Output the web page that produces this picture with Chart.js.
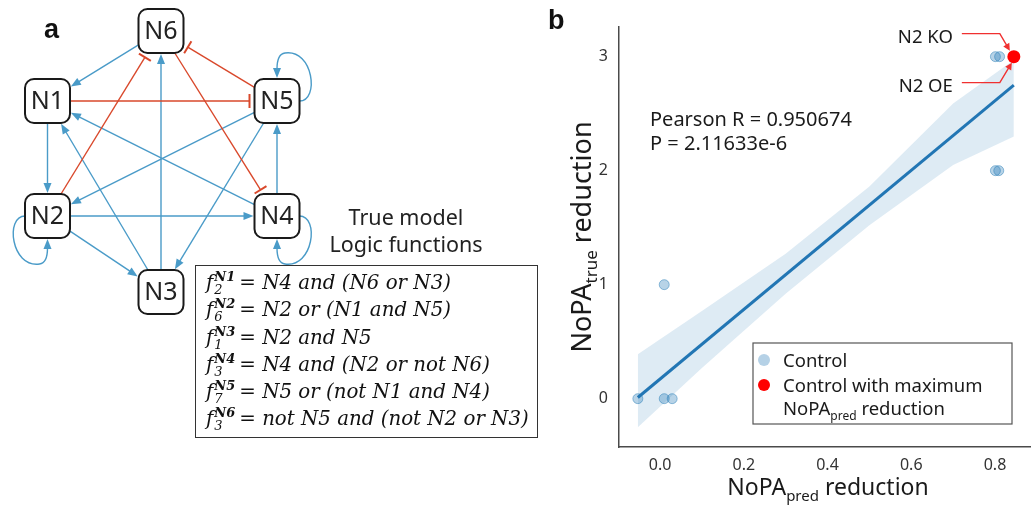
<!DOCTYPE html>
<html>
<head>
<meta charset="utf-8">
<script src="https://cdn.jsdelivr.net/npm/chart.js@4.4.0/dist/chart.umd.min.js"></script>
<style>
  body { margin: 0; width: 1031px; height: 506px; background: #fff; position: relative; overflow: hidden; font-family: 'Noto Sans', sans-serif; color: #222; }
  #netChart { position: absolute; left: 0; top: 0; }
  #scatterChart { position: absolute; left: 545px; top: 0; }
  .panel { position: absolute; font: bold 27px 'Liberation Sans', Arial, sans-serif; color: #111; }
  .caption { position: absolute; left: 300px; width: 212px; text-align: center; font-size: 21.5px; line-height: 27px; color: #222; }
  #logic { position: absolute; left: 195px; top: 265px; width: 343px; height: 173px; border: 1.5px solid #333; box-sizing: border-box; padding: 3px 0 0 10px; background: #fff; }
  .row { font: italic 19.8px 'DejaVu Serif', serif; line-height: 27.3px; height: 27.3px; white-space: nowrap; color: #111; }
  .ss { display: inline-block; vertical-align: -5px; line-height: 13px; font-size: 13px; margin: 0 4px 0 1px; }
  .ss span { display: block; }
  .ss .sp { font-weight: bold; }
  .eq { font-style: normal; }
</style>
</head>
<body>
<canvas id="netChart" width="545" height="506"></canvas>
<canvas id="scatterChart" width="486" height="506"></canvas>
<div class="panel" style="left:44px;top:14px">a</div>
<div class="panel" style="left:548px;top:5px">b</div>
<div class="caption" style="top:203px">True model</div>
<div class="caption" style="top:230px">Logic functions</div>
<div id="logic"></div>
<script>
// ---- panel a: true model network ----
const nodeNames = ["N1", "N2", "N3", "N4", "N5", "N6"];
const activations = [["N6", "N1"], ["N1", "N2"], ["N3", "N6"], ["N3", "N1"], ["N4", "N1"],
  ["N5", "N2"], ["N5", "N3"], ["N4", "N5"], ["N2", "N4"], ["N2", "N3"]];
const inhibitions = [["N1", "N5"], ["N2", "N6"], ["N5", "N6"], ["N6", "N4"]];
const selfLoops = ["N2", "N4", "N5"];

const logicTargets = ["N1", "N2", "N3", "N4", "N5", "N6"];
const logicIndex = ["2", "6", "1", "3", "7", "3"];
const logicRules = ["N4 and (N6 or N3)", "N2 or (N1 and N5)", "N2 and N5",
  "N4 and (N2 or not N6)", "N5 or (not N1 and N4)", "not N5 and (not N2 or N3)"];

// ---- panel b: NoPA scatter ----
const controlX = [-0.053, 0.010, 0.029, 0.010, 0.801, 0.809, 0.801, 0.811];
const controlY = [0, 0, 0, 1, 2, 2, 3, 3];
const bestX = [0.845];
const bestY = [3];
const bestLabels = ["N2 KO", "N2 OE"];
const fitX = [-0.053, 0.845];
const fitY = [0.01, 2.75];
const bandX = [-0.053, 0.1, 0.3, 0.5, 0.7, 0.845];
const bandLo = [-0.25, 0.27, 0.92, 1.52, 2.05, 2.30];
const bandHi = [0.39, 0.77, 1.27, 1.86, 2.59, 2.97];
const xTicks = [0, 0.2, 0.4, 0.6, 0.8];
const yTicks = [0, 1, 2, 3];
const statsText = ["Pearson R = 0.950674", "P = 2.11633e-6"];
const legendLabels = ["Control", "Control with maximum"];

// node layout in panel-a units
const nodeLayout = { N1: [47.5, 101], N2: [47.5, 216], N3: [161, 292], N4: [277, 216], N5: [277, 101], N6: [161, 31] };
const BLUE = "#4a9bc8", RED = "#d9482b";
const HW = 22.5, HH = 22;

// logic functions box
document.getElementById("logic").innerHTML = logicTargets.map((t, i) =>
  `<div class="row">f<span class="ss"><span class="sp">${t}</span><span>${logicIndex[i]}</span></span><span class="eq">=</span> ${logicRules[i]}</div>`
).join("");

function edgeT(dx, dy) {
  const tx = Math.abs(dx) > 1e-6 ? HW / Math.abs(dx) : Infinity;
  const ty = Math.abs(dy) > 1e-6 ? HH / Math.abs(dy) : Infinity;
  return Math.min(tx, ty);
}

function arrowHead(ctx, tx, ty, ux, uy, len, half, color) {
  ctx.fillStyle = color;
  ctx.beginPath();
  ctx.moveTo(tx, ty);
  ctx.lineTo(tx - ux * len - uy * half, ty - uy * len + ux * half);
  ctx.lineTo(tx - ux * len + uy * half, ty - uy * len - ux * half);
  ctx.closePath();
  ctx.fill();
}

const networkPlugin = {
  id: "network",
  afterDatasetsDraw(chart) {
    const ctx = chart.ctx;
    const sx = chart.scales.x, sy = chart.scales.y;
    const pos = (n) => [sx.getPixelForValue(nodeLayout[n][0]), sy.getPixelForValue(nodeLayout[n][1])];
    ctx.save();
    ctx.lineWidth = 1.4;

    const link = (a, b, inhib) => {
      const [x1, y1] = pos(a), [x2, y2] = pos(b);
      const d = Math.hypot(x2 - x1, y2 - y1);
      const ux = (x2 - x1) / d, uy = (y2 - y1) / d;
      const t = edgeT(ux, uy);
      const sxp = x1 + ux * t, syp = y1 + uy * t;
      const color = inhib ? RED : BLUE;
      ctx.strokeStyle = color;
      if (inhib) {
        const ex = x2 - ux * (t + 5), ey = y2 - uy * (t + 5);
        ctx.beginPath(); ctx.moveTo(sxp, syp); ctx.lineTo(ex, ey); ctx.stroke();
        ctx.lineWidth = 2;
        ctx.beginPath();
        ctx.moveTo(ex - uy * 7, ey + ux * 7); ctx.lineTo(ex + uy * 7, ey - ux * 7);
        ctx.stroke();
        ctx.lineWidth = 1.4;
      } else {
        const tx = x2 - ux * (t + 1), ty = y2 - uy * (t + 1);
        ctx.beginPath(); ctx.moveTo(sxp, syp); ctx.lineTo(tx - ux * 8, ty - uy * 8); ctx.stroke();
        arrowHead(ctx, tx, ty, ux, uy, 10, 4, color);
      }
    };
    activations.forEach(([a, b]) => link(a, b, false));
    inhibitions.forEach(([a, b]) => link(a, b, true));

    // self loops: N5 right->top, N4 right->bottom, N2 left->bottom
    selfLoops.forEach((n) => {
      const [cx, cy] = pos(n);
      const sxd = n === "N2" ? -1 : 1;
      const syd = n === "N5" ? -1 : 1;
      ctx.strokeStyle = BLUE;
      ctx.beginPath();
      ctx.moveTo(cx + sxd * HW, cy);
      ctx.bezierCurveTo(cx + sxd * (HW + 20), cy, cx + sxd * (HW + 14), cy + syd * (HH + 30), cx + sxd * 8, cy + syd * (HH + 26));
      ctx.quadraticCurveTo(cx, cy + syd * (HH + 25), cx, cy + syd * (HH + 10));
      ctx.stroke();
      arrowHead(ctx, cx, cy + syd * (HH + 1), 0, -syd, 10, 4, BLUE);
    });

    // node boxes
    ctx.font = "25px 'Noto Sans', sans-serif";
    ctx.textAlign = "center";
    ctx.textBaseline = "middle";
    nodeNames.forEach((n) => {
      const [cx, cy] = pos(n);
      ctx.fillStyle = "#fff";
      ctx.strokeStyle = "#1a1a1a";
      ctx.lineWidth = 2;
      ctx.beginPath();
      ctx.roundRect(cx - HW, cy - HH, HW * 2, HH * 2, 9);
      ctx.fill();
      ctx.stroke();
      ctx.fillStyle = "#222";
      ctx.fillText(n, cx, cy + 1);
    });
    ctx.restore();
  }
};

new Chart(document.getElementById("netChart").getContext("2d"), {
  type: "scatter",
  data: {
    datasets: [{
      data: nodeNames.map((n) => ({ x: nodeLayout[n][0], y: nodeLayout[n][1] })),
      pointRadius: 0,
    }],
  },
  options: {
    responsive: false,
    animation: false,
    layout: { padding: 0, autoPadding: false },
    plugins: { legend: { display: false }, tooltip: { enabled: false } },
    scales: {
      x: { type: "linear", min: 0, max: 545, display: false },
      y: { type: "linear", min: 0, max: 506, reverse: true, display: false },
    },
  },
  plugins: [networkPlugin],
});

// ---- panel b ----
const PAGE_X = 545;
function drawParts(ctx, x, y, parts, align) {
  let total = 0;
  parts.forEach((p) => { ctx.font = p.font; p.w = ctx.measureText(p.t).width; total += p.w; });
  let cx = align === "center" ? x - total / 2 : x;
  ctx.textAlign = "left";
  ctx.textBaseline = "alphabetic";
  parts.forEach((p) => { ctx.font = p.font; ctx.fillText(p.t, cx, y + (p.dy || 0)); cx += p.w; });
}

const titleParts = (sub, big, small) => [
  { t: "NoPA", font: big + "px 'Noto Sans', sans-serif" },
  { t: sub, font: small + "px 'Noto Sans', sans-serif", dy: 6 },
  { t: " reduction", font: big + "px 'Noto Sans', sans-serif" },
];

const scatterDecor = {
  id: "scatterDecor",
  afterDraw(chart) {
    const ctx = chart.ctx;
    const sx = chart.scales.x, sy = chart.scales.y;
    ctx.save();
    ctx.fillStyle = "#1a1a1a";

    // axis titles
    drawParts(ctx, 828 - PAGE_X, 495, titleParts("pred", 23, 15), "center");
    ctx.save();
    ctx.translate(591 - PAGE_X, 237);
    ctx.rotate(-Math.PI / 2);
    drawParts(ctx, 0, 0, titleParts("true", 27, 17), "center");
    ctx.restore();

    // statistics
    ctx.font = "20px 'Noto Sans', sans-serif";
    ctx.textAlign = "left";
    ctx.fillText(statsText[0], 650 - PAGE_X, 126);
    ctx.fillText(statsText[1], 650 - PAGE_X, 150);

    // KO / OE annotations
    const px = sx.getPixelForValue(bestX[0]), py = sy.getPixelForValue(bestY[0]);
    ctx.strokeStyle = "#f03030";
    ctx.lineWidth = 1.4;
    ctx.font = "18.5px 'Noto Sans', sans-serif";
    ctx.textAlign = "right";
    const ann = [[bestLabels[0], -23, -6, -4], [bestLabels[1], 26, 6, -2]];
    ann.forEach(([label, dy, tipDy, tipDx]) => {
      const ly = py + dy;
      ctx.fillStyle = "#1a1a1a";
      ctx.fillText(label, px - 61, ly + 9);
      const kx = px - 14;
      const tx = px + tipDx, ty = py + tipDy;
      const d = Math.hypot(tx - kx, ty - ly), ux = (tx - kx) / d, uy = (ty - ly) / d;
      ctx.beginPath();
      ctx.moveTo(px - 52, ly);
      ctx.lineTo(kx, ly);
      ctx.lineTo(tx - ux * 5, ty - uy * 5);
      ctx.stroke();
      arrowHead(ctx, tx, ty, ux, uy, 7, 3.5, "#f03030");
    });

    // legend
    const lx = 753 - PAGE_X, ly = 343;
    ctx.strokeStyle = "#555";
    ctx.lineWidth = 1.2;
    ctx.fillStyle = "#fff";
    ctx.fillRect(lx, ly, 259, 81);
    ctx.strokeRect(lx, ly, 259, 81);
    ctx.fillStyle = "#b5d1e6";
    ctx.beginPath(); ctx.arc(lx + 11, 360, 6, 0, Math.PI * 2); ctx.fill();
    ctx.fillStyle = "#ff0000";
    ctx.beginPath(); ctx.arc(lx + 11, 385, 6, 0, Math.PI * 2); ctx.fill();
    ctx.fillStyle = "#1a1a1a";
    ctx.font = "18.5px 'Noto Sans', sans-serif";
    ctx.textAlign = "left";
    ctx.fillText(legendLabels[0], lx + 30, 367);
    ctx.fillText(legendLabels[1], lx + 30, 392);
    drawParts(ctx, lx + 30, 415, [
      { t: "NoPA", font: "18.5px 'Noto Sans', sans-serif" },
      { t: "pred", font: "12px 'Noto Sans', sans-serif", dy: 5 },
      { t: " reduction", font: "18.5px 'Noto Sans', sans-serif" },
    ], "left");
    ctx.restore();
  }
};

const pts = (xs, ys) => xs.map((x, i) => ({ x: x, y: ys[i] }));

new Chart(document.getElementById("scatterChart").getContext("2d"), {
  type: "line",
  data: {
    datasets: [
      {
        label: "Control with maximum NoPA reduction",
        data: pts(bestX, bestY),
        showLine: false,
        pointRadius: 6.5,
        pointBackgroundColor: "#ff0000",
        pointBorderWidth: 0,
      },
      {
        label: "Control",
        data: pts(controlX, controlY),
        showLine: false,
        pointRadius: 5,
        pointBackgroundColor: "rgba(31, 119, 180, 0.32)",
        pointBorderColor: "rgba(31, 119, 180, 0.45)",
        pointBorderWidth: 1,
      },
      {
        label: "fit",
        data: pts(fitX, fitY),
        borderColor: "#2276b4",
        borderWidth: 3,
        pointRadius: 0,
      },
      {
        label: "band upper",
        data: pts(bandX, bandHi),
        borderWidth: 0,
        pointRadius: 0,
        fill: "+1",
        backgroundColor: "rgba(31, 119, 180, 0.15)",
      },
      {
        label: "band lower",
        data: pts(bandX, bandLo),
        borderWidth: 0,
        pointRadius: 0,
      },
    ],
  },
  options: {
    responsive: false,
    animation: false,
    layout: { padding: { top: 27, left: 0, right: 0, bottom: 0 }, autoPadding: false },
    plugins: { legend: { display: false }, tooltip: { enabled: false } },
    scales: {
      x: {
        type: "linear",
        min: -0.098,
        max: 0.886,
        afterBuildTicks: (scale) => { scale.ticks = xTicks.map((v) => ({ value: v })); },
        afterFit: (scale) => { scale.height = 59; scale.paddingLeft = 0; scale.paddingRight = 0; },
        grid: { display: false, drawTicks: false },
        border: { display: true, color: "#4a4a4a", width: 1.5 },
        ticks: {
          padding: 9,
          color: "#333",
          font: { family: "'Noto Sans', sans-serif", size: 16 },
          callback: (v) => Number(v).toFixed(1),
        },
      },
      y: {
        type: "linear",
        min: -0.424,
        max: 3.26,
        afterBuildTicks: (scale) => { scale.ticks = yTicks.map((v) => ({ value: v })); },
        afterFit: (scale) => { scale.width = 74; scale.paddingTop = 0; scale.paddingBottom = 0; },
        grid: { display: false, drawTicks: false },
        border: { display: true, color: "#4a4a4a", width: 1.5 },
        ticks: {
          padding: 11,
          color: "#333",
          font: { family: "'Noto Sans', sans-serif", size: 16 },
          callback: (v) => String(v),
        },
      },
    },
  },
  plugins: [scatterDecor],
});
</script>
</body>
</html>
